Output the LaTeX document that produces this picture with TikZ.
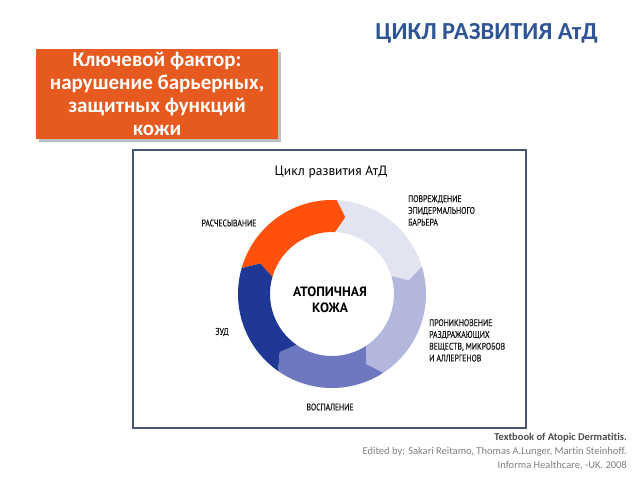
\documentclass[tikz,border=0pt]{standalone}
\usepackage{fontspec}
\setmainfont{Carlito}[Ligatures=NoCommon]
\newfontfamily\diagfont[FakeStretch=0.8,FakeBold=0.6]{PT Sans}
\newfontfamily\headfont{PT Sans}
\usetikzlibrary{calc}

\definecolor{titleblue}{HTML}{2F5597}
\definecolor{boxorange}{HTML}{E65A20}
\definecolor{framegray}{HTML}{46556F}
\definecolor{segorange}{HTML}{FF500C}
\definecolor{seglav}{HTML}{E3E4F2}
\definecolor{segperi}{HTML}{B3B6DD}
\definecolor{segmid}{HTML}{6E78C0}
\definecolor{segdark}{HTML}{1F3896}
\definecolor{citegray}{HTML}{7F7F7F}

\begin{document}
\begin{tikzpicture}[x=1pt,y=1pt,
    stagelabel/.style={font=\diagfont\fontsize{9.6}{11.8}\selectfont, text=black!90, inner sep=0pt},
    keybox/.style={fill=boxorange, text=white, align=center, minimum width=242, minimum height=90,
        font=\bfseries\fontsize{21}{23}\selectfont, inner sep=0pt}]
    \useasboundingbox (0,0) rectangle (640,480);

    % heading
    \node[anchor=east, text=titleblue, font=\bfseries\fontsize{24.5}{28}\selectfont, inner sep=0pt] (heading) at (598,447) {ЦИКЛ РАЗВИТИЯ АтД};

    % key factor box with shadow
    \fill[black!25] (39,338) rectangle (281,428);
    \node[keybox] (keyfactor) at (157,386) {Ключевой фактор:\\нарушение барьерных,\\защитных функций\\кожи};

    % figure frame
    \draw[framegray, line width=1.5] (133,330) rectangle (526,52);
    \node[font=\headfont\fontsize{13.5}{16}\selectfont, inner sep=0pt] (cycletitle) at (331,308) {Цикл развития АтД};

    % ring of arrows
    \coordinate (c) at (332,186);
    \def\Ro{94}
    \def\Ri{62}
    \def\Rm{78}
    \foreach \a/\b/\col in {164/87/segorange, 87/17/seglav, 17/-57/segperi, -57/-125/segmid, -125/-196/segdark}
        \fill[\col] ($(c)+(\a:\Ro)$) arc[start angle=\a, end angle=\b, radius=\Ro]
            -- ($(c)+(\b-7:\Rm)$) -- ($(c)+(\b:\Ri)$)
            arc[start angle=\b, end angle=\a, radius=\Ri] -- ($(c)+(\a-7:\Rm)$) -- cycle;

    \node[font=\headfont\bfseries\fontsize{13.5}{16.5}\selectfont, align=center, inner sep=0pt] (skin) at (330,180) {АТОПИЧНАЯ\\КОЖА};

    % stage labels
    \node[stagelabel] (scratch) at (229,257) {РАСЧЕСЫВАНИЕ};
    \node[stagelabel, anchor=north west, align=left] (damage) at (408,285) {ПОВРЕЖДЕНИЕ\\ЭПИДЕРМАЛЬНОГО\\БАРЬЕРА};
    \node[stagelabel, anchor=north west, align=left] (penetration) at (429,161) {ПРОНИКНОВЕНИЕ\\РАЗДРАЖАЮЩИХ\\ВЕЩЕСТВ, МИКРОБОВ\\И АЛЛЕРГЕНОВ};
    \node[stagelabel] (itch) at (222,148) {ЗУД};
    \node[stagelabel] (inflammation) at (330,73) {ВОСПАЛЕНИЕ};

    % source
    \node[anchor=north east, align=right, text=citegray, font=\fontsize{10.5}{14}\selectfont, inner sep=0pt] (source) at (627,47)
        {\textbf{\color{black!70}Textbook of Atopic Dermatitis.}\\Edited by: Sakari Reitamo, Thomas A.Lunger, Martin Steinhoff.\\Informa Healthcare, -UK. 2008};
\end{tikzpicture}
\end{document}
